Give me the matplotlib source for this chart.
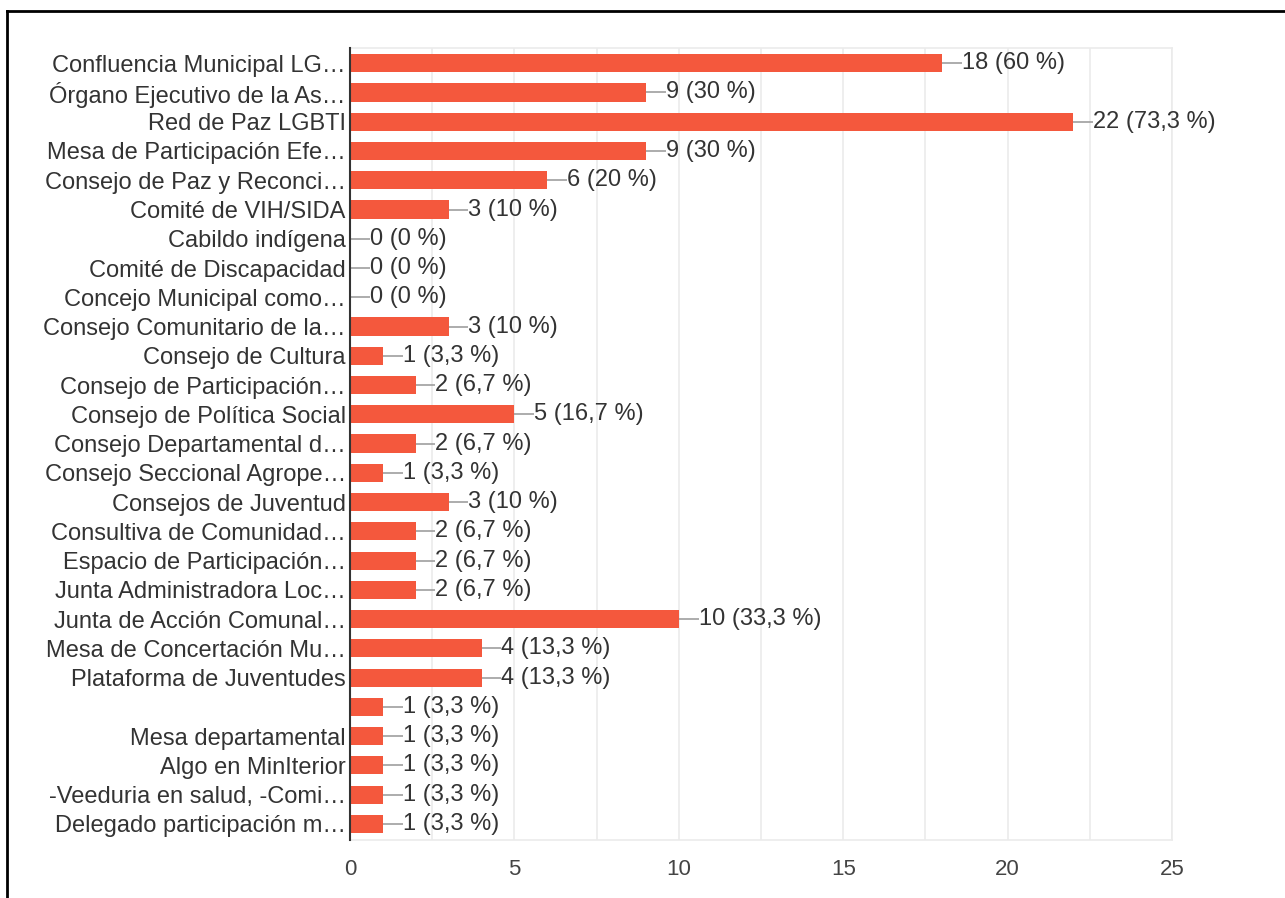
#! /usr/bin/env python3
"""Horizontal bar chart of participation spaces (Google Forms style)."""

import matplotlib.pyplot as plt
from matplotlib.lines import Line2D
from matplotlib.ticker import MultipleLocator

labels = [
    "Confluencia Municipal LG…",
    "Órgano Ejecutivo de la As…",
    "Red de Paz LGBTI",
    "Mesa de Participación Efe…",
    "Consejo de Paz y Reconci…",
    "Comité de VIH/SIDA",
    "Cabildo indígena",
    "Comité de Discapacidad",
    "Concejo Municipal como…",
    "Consejo Comunitario de la…",
    "Consejo de Cultura",
    "Consejo de Participación…",
    "Consejo de Política Social",
    "Consejo Departamental d…",
    "Consejo Seccional Agrope…",
    "Consejos de Juventud",
    "Consultiva de Comunidad…",
    "Espacio de Participación…",
    "Junta Administradora Loc…",
    "Junta de Acción Comunal…",
    "Mesa de Concertación Mu…",
    "Plataforma de Juventudes",
    "",
    "Mesa departamental",
    "Algo en MinIterior",
    "-Veeduria en salud, -Comi…",
    "Delegado participación m…",
]
counts = [18, 9, 22, 9, 6, 3, 0, 0, 0, 3, 1, 2, 5, 2, 1, 3, 2, 2, 2, 10,
          4, 4, 1, 1, 1, 1, 1]
percents = ["60", "30", "73,3", "30", "20", "10", "0", "0", "0", "10",
            "3,3", "6,7", "16,7", "6,7", "3,3", "10", "6,7", "6,7", "6,7",
            "33,3", "13,3", "13,3", "3,3", "3,3", "3,3", "3,3", "3,3"]

bar_colour = "#f4583d"
text_colour = "#333333"
grid_colour = "#ebebeb"


def main():
    plt.rcParams["font.family"] = ["Liberation Sans", "DejaVu Sans"]
    fig = plt.figure(figsize=(12.85, 8.98), dpi=100)
    ax = fig.add_axes([350 / 1285, 1 - 840 / 898, 822 / 1285, 792 / 898])

    ypos = list(range(len(labels)))
    ax.barh(ypos, counts, height=0.62, color=bar_colour, zorder=3)
    for y, c, p in zip(ypos, counts, percents):
        ax.plot([c, c + 0.6], [y, y], color="#9e9e9e", lw=1.2, zorder=3,
                solid_capstyle="butt")
        ax.text(c + 0.6, y, f"{c} ({p} %)", va="center", ha="left",
                fontsize=17, color=text_colour, zorder=4)

    ax.set_xlim(0, 25)
    ax.set_ylim(26.55, -0.52)
    ax.set_yticks(ypos)
    ax.set_yticklabels(labels, fontsize=17, color=text_colour)
    ax.xaxis.set_major_locator(MultipleLocator(5))
    ax.xaxis.set_minor_locator(MultipleLocator(2.5))
    ax.tick_params(axis="x", labelsize=16, labelcolor="#444444", length=0,
                   pad=14, which="both")
    ax.tick_params(axis="y", length=0, pad=3)
    ax.grid(axis="x", which="both", color=grid_colour, lw=1.2, zorder=0)
    for side in ("top", "right", "bottom"):
        ax.spines[side].set_color(grid_colour)
        ax.spines[side].set_linewidth(1.2)
    ax.spines["left"].set_color("#333333")
    ax.spines["left"].set_linewidth(1.5)
    ax.spines["left"].set_zorder(5)

    # outer frame (left and top edges of a cropped box)
    fig.add_artist(Line2D([7 / 1285, 7 / 1285], [0, 1 - 11 / 898],
                          color="black", lw=2, transform=fig.transFigure))
    fig.add_artist(Line2D([7 / 1285, 1], [1 - 11 / 898, 1 - 11 / 898],
                          color="black", lw=2, transform=fig.transFigure))

    fig.savefig("out.png", dpi=100)


if __name__ == "__main__":
    main()
